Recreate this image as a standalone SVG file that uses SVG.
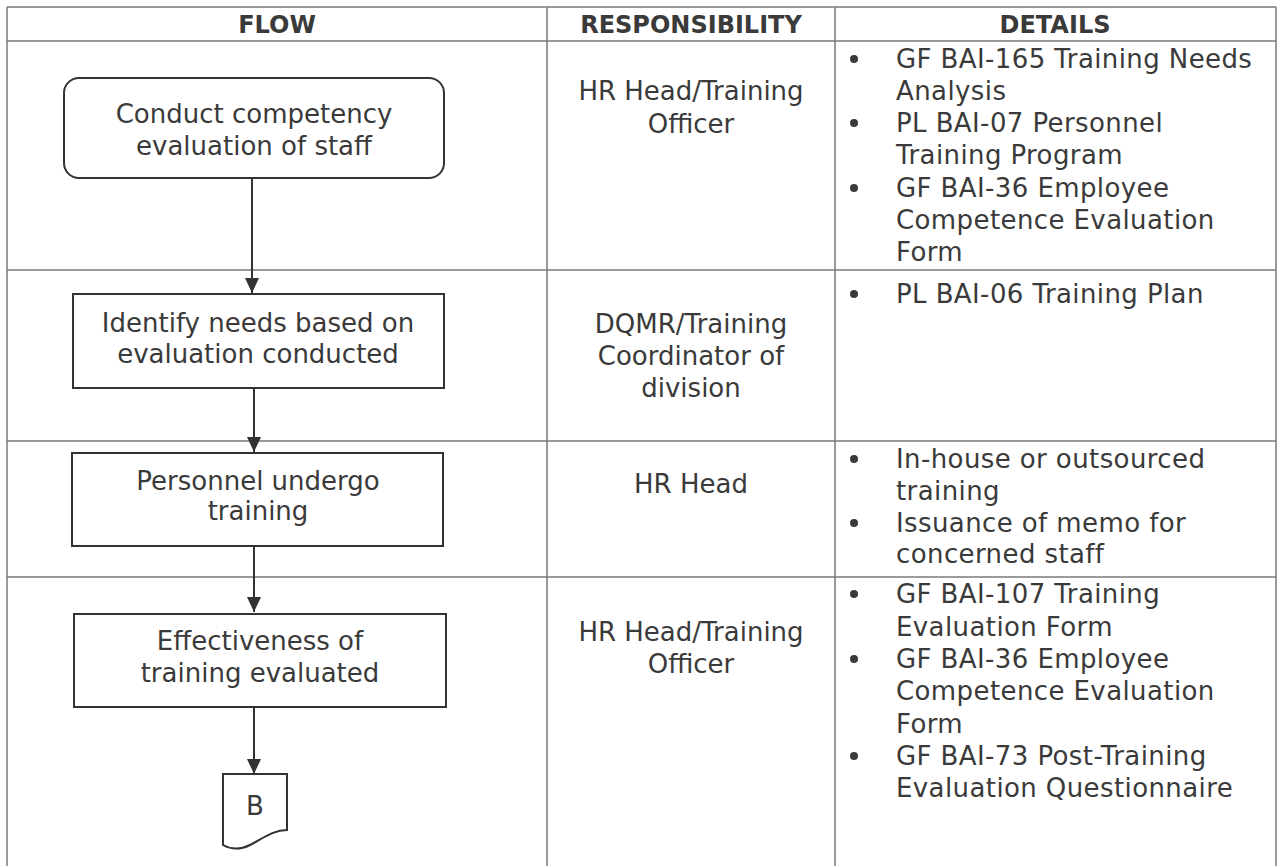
<svg xmlns="http://www.w3.org/2000/svg" width="1281" height="866" viewBox="0 0 1281 866">
<defs>
<style>
text{font-family:"DejaVu Sans",Verdana,sans-serif;font-size:26px;fill:#3a3a3a}
.h{font-weight:bold;font-size:24px;text-anchor:middle}
.c{text-anchor:middle}
.d{letter-spacing:0.4px}
.grid{stroke:#7a7a7a;stroke-width:1.5;fill:none}
.box{fill:#fff;stroke:#333;stroke-width:2}
.conn{stroke:#333;stroke-width:2;fill:none;marker-end:url(#ah)}
.dot{fill:#3a3a3a}
</style>
<marker id="ah" viewBox="0 0 15 14" refX="15" refY="7" markerWidth="15" markerHeight="14" markerUnits="userSpaceOnUse" orient="auto">
<path d="M0,0 L15,7 L0,14 Z" fill="#333"/>
</marker>
</defs>
<rect width="1281" height="866" fill="#fff"/>
<g id="table" class="grid">
<line x1="7" y1="7" x2="1276" y2="7"/>
<line x1="7" y1="41" x2="1276" y2="41"/>
<line x1="7" y1="270" x2="1276" y2="270"/>
<line x1="7" y1="441" x2="1276" y2="441"/>
<line x1="7" y1="577" x2="1276" y2="577"/>
<line x1="7" y1="7" x2="7" y2="866"/>
<line x1="547" y1="7" x2="547" y2="866"/>
<line x1="835" y1="7" x2="835" y2="866"/>
<line x1="1276" y1="7" x2="1276" y2="866"/>
</g>
<g id="headers">
<text class="h" x="277" y="33">FLOW</text>
<text class="h" x="691" y="33">RESPONSIBILITY</text>
<text class="h" x="1055" y="33">DETAILS</text>
</g>
<g id="connectors">
<line class="conn" x1="252" y1="178" x2="252" y2="293"/>
<line class="conn" x1="254" y1="388" x2="254" y2="452"/>
<line class="conn" x1="254" y1="546" x2="254" y2="612"/>
<line class="conn" x1="254" y1="707" x2="254" y2="774"/>
</g>
<g id="n1">
<rect class="box" x="64" y="78" width="380" height="100" rx="15"/>
<text class="c" x="254" y="123">Conduct competency</text>
<text class="c" x="254" y="155">evaluation of staff</text>
</g>
<g id="n2">
<rect class="box" x="73" y="294" width="371" height="94"/>
<text class="c" x="258" y="332">Identify needs based on</text>
<text class="c" x="258" y="363">evaluation conducted</text>
</g>
<g id="n3">
<rect class="box" x="72" y="453" width="371" height="93"/>
<text class="c" x="258" y="490">Personnel undergo</text>
<text class="c" x="258" y="520">training</text>
</g>
<g id="n4">
<rect class="box" x="74" y="614" width="372" height="93"/>
<text class="c" x="260" y="650">Effectiveness of</text>
<text class="c" x="260" y="682">training evaluated</text>
</g>
<g id="n5">
<path class="box" d="M223,774 H287 V830 C273,830 262,839 250,845 C240,850 230,849 223,845 Z"/>
<text class="c" x="255" y="815">B</text>
</g>
<g id="responsibility">
<text class="c" x="691" y="100">HR Head/Training</text>
<text class="c" x="691" y="133">Officer</text>
<text class="c" x="691" y="333">DQMR/Training</text>
<text class="c" x="691" y="365">Coordinator of</text>
<text class="c" x="691" y="397">division</text>
<text class="c" x="691" y="493">HR Head</text>
<text class="c" x="691" y="641">HR Head/Training</text>
<text class="c" x="691" y="673">Officer</text>
</g>
<g id="details" class="d">
<circle class="dot" cx="854" cy="59" r="4"/>
<text class="d" x="896" y="68">GF BAI-165 Training Needs</text>
<text class="d" x="896" y="100">Analysis</text>
<circle class="dot" cx="854" cy="123" r="4"/>
<text class="d" x="896" y="132">PL BAI-07 Personnel</text>
<text class="d" x="896" y="164">Training Program</text>
<circle class="dot" cx="854" cy="188" r="4"/>
<text class="d" x="896" y="197">GF BAI-36 Employee</text>
<text class="d" x="896" y="229">Competence Evaluation</text>
<text class="d" x="896" y="261">Form</text>
<circle class="dot" cx="854" cy="294" r="4"/>
<text class="d" x="896" y="303">PL BAI-06 Training Plan</text>
<circle class="dot" cx="854" cy="459" r="4"/>
<text class="d" x="896" y="468">In-house or outsourced</text>
<text class="d" x="896" y="500">training</text>
<circle class="dot" cx="854" cy="523" r="4"/>
<text class="d" x="896" y="532">Issuance of memo for</text>
<text class="d" x="896" y="563">concerned staff</text>
<circle class="dot" cx="854" cy="594" r="4"/>
<text class="d" x="896" y="603">GF BAI-107 Training</text>
<text class="d" x="896" y="636">Evaluation Form</text>
<circle class="dot" cx="854" cy="659" r="4"/>
<text class="d" x="896" y="668">GF BAI-36 Employee</text>
<text class="d" x="896" y="700">Competence Evaluation</text>
<text class="d" x="896" y="733">Form</text>
<circle class="dot" cx="854" cy="756" r="4"/>
<text class="d" x="896" y="765">GF BAI-73 Post-Training</text>
<text class="d" x="896" y="797">Evaluation Questionnaire</text>
</g>
</svg>
